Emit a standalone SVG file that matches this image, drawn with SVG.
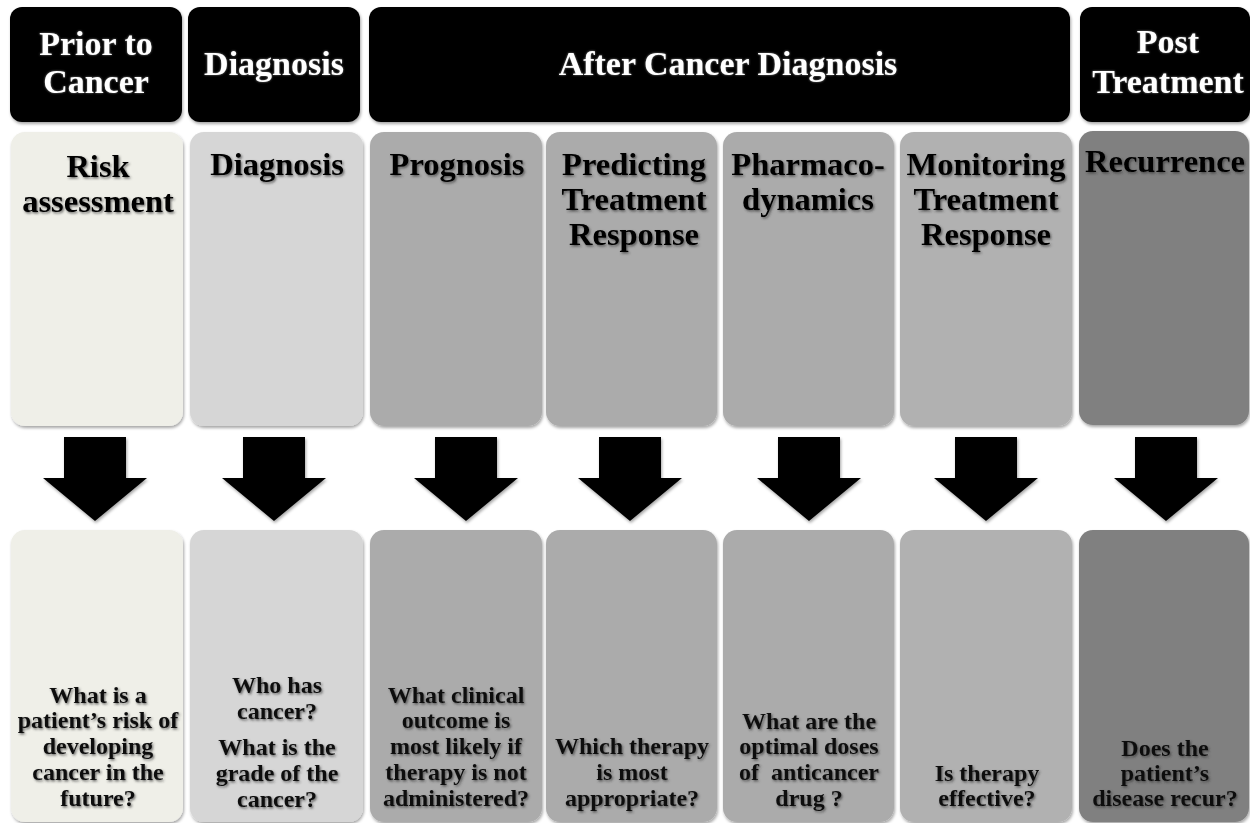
<svg xmlns="http://www.w3.org/2000/svg" width="1250" height="823" viewBox="0 0 1250 823">
<defs>
<filter id="bs" x="-10%" y="-10%" width="120%" height="120%"><feDropShadow dx="1" dy="2" stdDeviation="1.5" flood-color="#000" flood-opacity="0.35"/></filter>
<filter id="ts" x="-10%" y="-20%" width="120%" height="140%"><feDropShadow dx="1.2" dy="1.5" stdDeviation="1.2" flood-color="#333" flood-opacity="0.7"/></filter>
<filter id="wt" x="-10%" y="-20%" width="120%" height="140%"><feDropShadow dx="0" dy="0" stdDeviation="0.8" flood-color="#999" flood-opacity="0.8"/></filter>
<style>
.hd{fill:#000}
.ht{fill:#fff;font-family:"Liberation Serif",serif;font-weight:bold;font-size:34px;text-anchor:middle}
.ct{fill:#000;font-family:"Liberation Serif",serif;font-weight:bold;font-size:32.5px;text-anchor:middle}
.qt{fill:#111;font-family:"Liberation Serif",serif;font-weight:bold;font-size:24px;text-anchor:middle}
.ar{fill:#000}
.c1{fill:#efefe8}.c2{fill:#d6d6d6}.c3{fill:#ababab}.c6{fill:#b1b1b1}.c7{fill:#808080}
</style>
</defs>
<rect width="1250" height="823" fill="#fff"/>

<g id="headers">
<g id="h1"><rect class="hd" x="10" y="7" width="172" height="115" rx="12" filter="url(#bs)"/>
<text class="ht" filter="url(#wt)"><tspan x="96" y="55">Prior to</tspan><tspan x="96" y="93">Cancer</tspan></text></g>
<g id="h2"><rect class="hd" x="188" y="7" width="172" height="115" rx="12" filter="url(#bs)"/>
<text class="ht" x="274" y="75" filter="url(#wt)">Diagnosis</text></g>
<g id="h3"><rect class="hd" x="369" y="7" width="701" height="115" rx="12" filter="url(#bs)"/>
<text class="ht" x="728" y="75" filter="url(#wt)">After Cancer Diagnosis</text></g>
<g id="h4"><rect class="hd" x="1080" y="7" width="170" height="115" rx="12" filter="url(#bs)"/>
<text class="ht" filter="url(#wt)"><tspan x="1168" y="53">Post</tspan><tspan x="1168" y="93">Treatment</tspan></text></g>
</g>

<g id="columns">
<g id="col1"><rect class="c1" x="11" y="132" width="172" height="294" rx="14" filter="url(#bs)"/>
<text class="ct" filter="url(#ts)"><tspan x="98" y="177">Risk</tspan><tspan x="98" y="212">assessment</tspan></text></g>
<g id="col2"><rect class="c2" x="190" y="132" width="173" height="294" rx="14" filter="url(#bs)"/>
<text class="ct" x="277" y="175" filter="url(#ts)">Diagnosis</text></g>
<g id="col3"><rect class="c3" x="370" y="132" width="172" height="294" rx="14" filter="url(#bs)"/>
<text class="ct" x="457" y="175" filter="url(#ts)">Prognosis</text></g>
<g id="col4"><rect class="c3" x="546" y="132" width="171" height="294" rx="14" filter="url(#bs)"/>
<text class="ct" filter="url(#ts)"><tspan x="634" y="175">Predicting</tspan><tspan x="634" y="210">Treatment</tspan><tspan x="634" y="245">Response</tspan></text></g>
<g id="col5"><rect class="c3" x="723" y="132" width="171" height="294" rx="14" filter="url(#bs)"/>
<text class="ct" filter="url(#ts)"><tspan x="808" y="175">Pharmaco-</tspan><tspan x="808" y="210">dynamics</tspan></text></g>
<g id="col6"><rect class="c6" x="900" y="132" width="172" height="294" rx="14" filter="url(#bs)"/>
<text class="ct" filter="url(#ts)"><tspan x="986" y="175">Monitoring</tspan><tspan x="986" y="210">Treatment</tspan><tspan x="986" y="245">Response</tspan></text></g>
<g id="col7"><rect class="c7" x="1079" y="131" width="170" height="294" rx="14" filter="url(#bs)"/>
<text class="ct" x="1165" y="172" filter="url(#ts)">Recurrence</text></g>
</g>

<g id="connectors">
<polygon class="ar" points="64,437 126,437 126,478 147,478 95,521 43,478 64,478" filter="url(#bs)"/>
<polygon class="ar" points="243,437 305,437 305,478 326,478 274,521 222,478 243,478" filter="url(#bs)"/>
<polygon class="ar" points="435,437 497,437 497,478 518,478 466,521 414,478 435,478" filter="url(#bs)"/>
<polygon class="ar" points="599,437 661,437 661,478 682,478 630,521 578,478 599,478" filter="url(#bs)"/>
<polygon class="ar" points="778,437 840,437 840,478 861,478 809,521 757,478 778,478" filter="url(#bs)"/>
<polygon class="ar" points="955,437 1017,437 1017,478 1038,478 986,521 934,478 955,478" filter="url(#bs)"/>
<polygon class="ar" points="1135,437 1197,437 1197,478 1218,478 1166,521 1114,478 1135,478" filter="url(#bs)"/>
</g>

<g id="questions">
<g id="q1"><rect class="c1" x="11" y="530" width="172" height="292" rx="14" filter="url(#bs)"/>
<text class="qt" filter="url(#ts)"><tspan x="98" y="703">What is a</tspan><tspan x="98" y="728">patient’s risk of</tspan><tspan x="98" y="754">developing</tspan><tspan x="98" y="780">cancer in the</tspan><tspan x="98" y="806">future?</tspan></text></g>
<g id="q2"><rect class="c2" x="190" y="530" width="173" height="292" rx="14" filter="url(#bs)"/>
<text class="qt" filter="url(#ts)"><tspan x="277" y="693">Who has</tspan><tspan x="277" y="719">cancer?</tspan><tspan x="277" y="755">What is the</tspan><tspan x="277" y="781">grade of the</tspan><tspan x="277" y="807">cancer?</tspan></text></g>
<g id="q3"><rect class="c3" x="370" y="530" width="172" height="292" rx="14" filter="url(#bs)"/>
<text class="qt" filter="url(#ts)"><tspan x="456" y="703">What clinical</tspan><tspan x="456" y="728">outcome is</tspan><tspan x="456" y="754">most likely if</tspan><tspan x="456" y="780">therapy is not</tspan><tspan x="456" y="806">administered?</tspan></text></g>
<g id="q4"><rect class="c3" x="546" y="530" width="171" height="292" rx="14" filter="url(#bs)"/>
<text class="qt" filter="url(#ts)"><tspan x="632" y="754">Which therapy</tspan><tspan x="632" y="780">is most</tspan><tspan x="632" y="806">appropriate?</tspan></text></g>
<g id="q5"><rect class="c3" x="723" y="530" width="171" height="292" rx="14" filter="url(#bs)"/>
<text class="qt" filter="url(#ts)" xml:space="preserve"><tspan x="809" y="729">What are the</tspan><tspan x="809" y="754">optimal doses</tspan><tspan x="809" y="780">of  anticancer</tspan><tspan x="809" y="806">drug ?</tspan></text></g>
<g id="q6"><rect class="c6" x="900" y="530" width="172" height="292" rx="14" filter="url(#bs)"/>
<text class="qt" filter="url(#ts)"><tspan x="987" y="781">Is therapy</tspan><tspan x="987" y="806">effective?</tspan></text></g>
<g id="q7"><rect class="c7" x="1079" y="530" width="170" height="292" rx="14" filter="url(#bs)"/>
<text class="qt" filter="url(#ts)"><tspan x="1165" y="756">Does the</tspan><tspan x="1165" y="781">patient’s</tspan><tspan x="1165" y="806">disease recur?</tspan></text></g>
</g>
</svg>
